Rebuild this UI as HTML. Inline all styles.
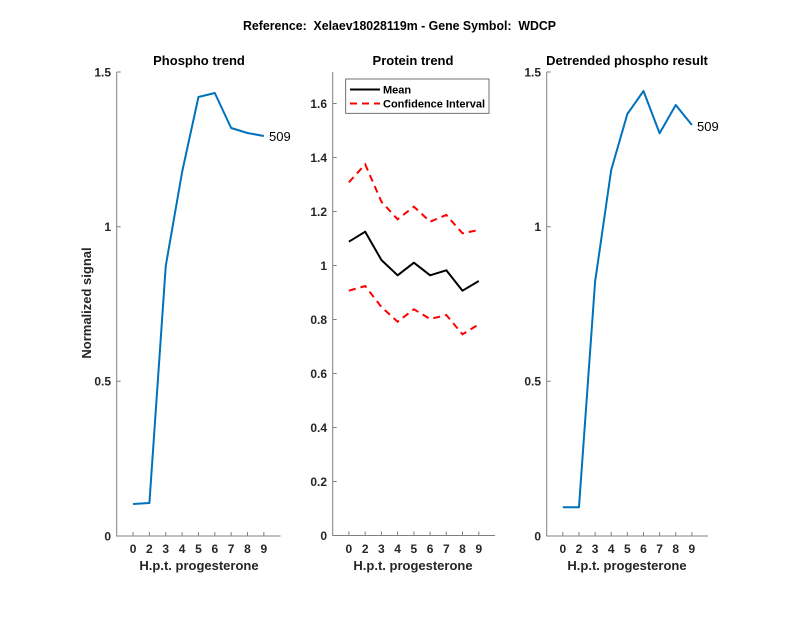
<!DOCTYPE html>
<html><head><meta charset="utf-8"><style>
html,body{margin:0;padding:0;background:#fff;}
svg{display:block;}
text{font-family:"Liberation Sans",Arial,sans-serif;}
.t{font-weight:bold;font-size:12px;fill:#262626;}
.ttl{font-weight:bold;font-size:13px;fill:#000;}
.ax{stroke:#808080;stroke-width:1;fill:none;}
</style></head><body>
<svg width="800" height="618" viewBox="0 0 800 618" xmlns="http://www.w3.org/2000/svg">
<rect width="800" height="618" fill="#fff"/>
<text x="243" y="30" class="ttl" style="white-space:pre" xml:space="preserve" textLength="313" lengthAdjust="spacingAndGlyphs">Reference:  Xelaev18028119m - Gene Symbol:  WDCP</text>

<!-- Left panel -->
<text x="199" y="65" text-anchor="middle" class="ttl">Phospho trend</text>
<path class="ax" d="M116.7,72 V536 H280.5"/>
<g class="ax">
<path d="M116.7,72 h4 M116.7,226.7 h4 M116.7,381.3 h4"/>
<path d="M133.05,536 v-4 M149.4,536 v-4 M165.75,536 v-4 M182.1,536 v-4 M198.45,536 v-4 M214.8,536 v-4 M231.15,536 v-4 M247.5,536 v-4 M263.85,536 v-4"/>
</g>
<g class="t" text-anchor="end">
<text x="111" y="76.5">1.5</text>
<text x="111" y="231">1</text>
<text x="111" y="385.5">0.5</text>
<text x="111" y="540.5">0</text>
</g>
<g class="t" text-anchor="middle">
<text x="133.05" y="553">0</text><text x="149.4" y="553">2</text><text x="165.75" y="553">3</text><text x="182.1" y="553">4</text><text x="198.45" y="553">5</text><text x="214.8" y="553">6</text><text x="231.15" y="553">7</text><text x="247.5" y="553">8</text><text x="263.85" y="553">9</text>
</g>
<text x="199" y="570" text-anchor="middle" class="ttl" style="fill:#262626">H.p.t. progesterone</text>
<text transform="translate(91,303) rotate(-90)" text-anchor="middle" class="ttl" style="fill:#262626">Normalized signal</text>
<polyline fill="none" stroke="#0072BD" stroke-width="2" stroke-linejoin="round" points="133.05,504 149.4,503 165.75,266 182.1,172 198.45,97 214.8,93 231.15,128 247.5,133 263.85,136"/>
<text x="269" y="141" style="font-size:13px;fill:#000">509</text>

<!-- Middle panel -->
<text x="413" y="65" text-anchor="middle" class="ttl">Protein trend</text>
<path class="ax" d="M332.7,72 V535.5 H495"/>
<g class="ax">
<path d="M332.7,535.5 h4 M332.7,481.5 h4 M332.7,427.5 h4 M332.7,373.5 h4 M332.7,319.5 h4 M332.7,265.5 h4 M332.7,211.5 h4 M332.7,157.5 h4 M332.7,103.5 h4"/>
<path d="M348.9,535.5 v-4 M365.2,535.5 v-4 M381.4,535.5 v-4 M397.6,535.5 v-4 M413.9,535.5 v-4 M430.1,535.5 v-4 M446.3,535.5 v-4 M462.5,535.5 v-4 M478.8,535.5 v-4"/>
</g>
<g class="t" text-anchor="end">
<text x="327" y="540">0</text>
<text x="327" y="486">0.2</text>
<text x="327" y="432">0.4</text>
<text x="327" y="378">0.6</text>
<text x="327" y="324">0.8</text>
<text x="327" y="270">1</text>
<text x="327" y="216">1.2</text>
<text x="327" y="162">1.4</text>
<text x="327" y="108">1.6</text>
</g>
<g class="t" text-anchor="middle">
<text x="348.9" y="553">0</text><text x="365.2" y="553">2</text><text x="381.4" y="553">3</text><text x="397.6" y="553">4</text><text x="413.9" y="553">5</text><text x="430.1" y="553">6</text><text x="446.3" y="553">7</text><text x="462.5" y="553">8</text><text x="478.8" y="553">9</text>
</g>
<text x="413" y="570" text-anchor="middle" class="ttl" style="fill:#262626">H.p.t. progesterone</text>
<polyline fill="none" stroke="#000" stroke-width="2" stroke-linejoin="round" points="348.9,241.7 365.2,231.7 381.4,260 397.6,275.3 413.9,262.7 430.1,275.3 446.3,270.3 462.5,290.7 478.8,281"/>
<polyline fill="none" stroke="#f00" stroke-width="2" stroke-dasharray="7,5" points="348.9,182.3 365.2,164.3 381.4,201.7 397.6,219.3 413.9,206.7 430.1,221.7 446.3,215 462.5,233.3 478.8,230"/>
<polyline fill="none" stroke="#f00" stroke-width="2" stroke-dasharray="7,5" points="348.9,290.7 365.2,286 381.4,307 397.6,321.7 413.9,309.3 430.1,319 446.3,315 462.5,334.3 478.8,324.3"/>
<rect x="345.7" y="79" width="143.3" height="34.3" fill="#fff" stroke="#4d4d4d" stroke-width="0.8"/>
<line x1="350" y1="89.5" x2="380" y2="89.5" stroke="#000" stroke-width="2"/>
<line x1="350" y1="103.5" x2="380" y2="103.5" stroke="#f00" stroke-width="2" stroke-dasharray="7,5"/>
<text x="383" y="93.5" style="font-weight:bold;font-size:11px;fill:#000">Mean</text>
<text x="383" y="107.5" style="font-weight:bold;font-size:11px;fill:#000">Confidence Interval</text>

<!-- Right panel -->
<text x="627" y="65" text-anchor="middle" class="ttl">Detrended phospho result</text>
<path class="ax" d="M546.7,72 V536 H708"/>
<g class="ax">
<path d="M546.7,72 h4 M546.7,226.7 h4 M546.7,381.3 h4"/>
<path d="M562.8,536 v-4 M578.96,536 v-4 M595.1,536 v-4 M611.2,536 v-4 M627.35,536 v-4 M643.5,536 v-4 M659.6,536 v-4 M675.74,536 v-4 M691.9,536 v-4"/>
</g>
<g class="t" text-anchor="end">
<text x="541" y="76.5">1.5</text>
<text x="541" y="231">1</text>
<text x="541" y="385.5">0.5</text>
<text x="541" y="540.5">0</text>
</g>
<g class="t" text-anchor="middle">
<text x="562.8" y="553">0</text><text x="578.96" y="553">2</text><text x="595.1" y="553">3</text><text x="611.2" y="553">4</text><text x="627.35" y="553">5</text><text x="643.5" y="553">6</text><text x="659.6" y="553">7</text><text x="675.74" y="553">8</text><text x="691.9" y="553">9</text>
</g>
<text x="627" y="570" text-anchor="middle" class="ttl" style="fill:#262626">H.p.t. progesterone</text>
<polyline fill="none" stroke="#0072BD" stroke-width="2" stroke-linejoin="round" points="562.8,507.3 578.96,507.3 595.1,281.7 611.2,170 627.35,114 643.5,91 659.6,133.3 675.74,105 691.9,125"/>
<text x="697" y="131" style="font-size:13px;fill:#000">509</text>
</svg>
</body></html>
